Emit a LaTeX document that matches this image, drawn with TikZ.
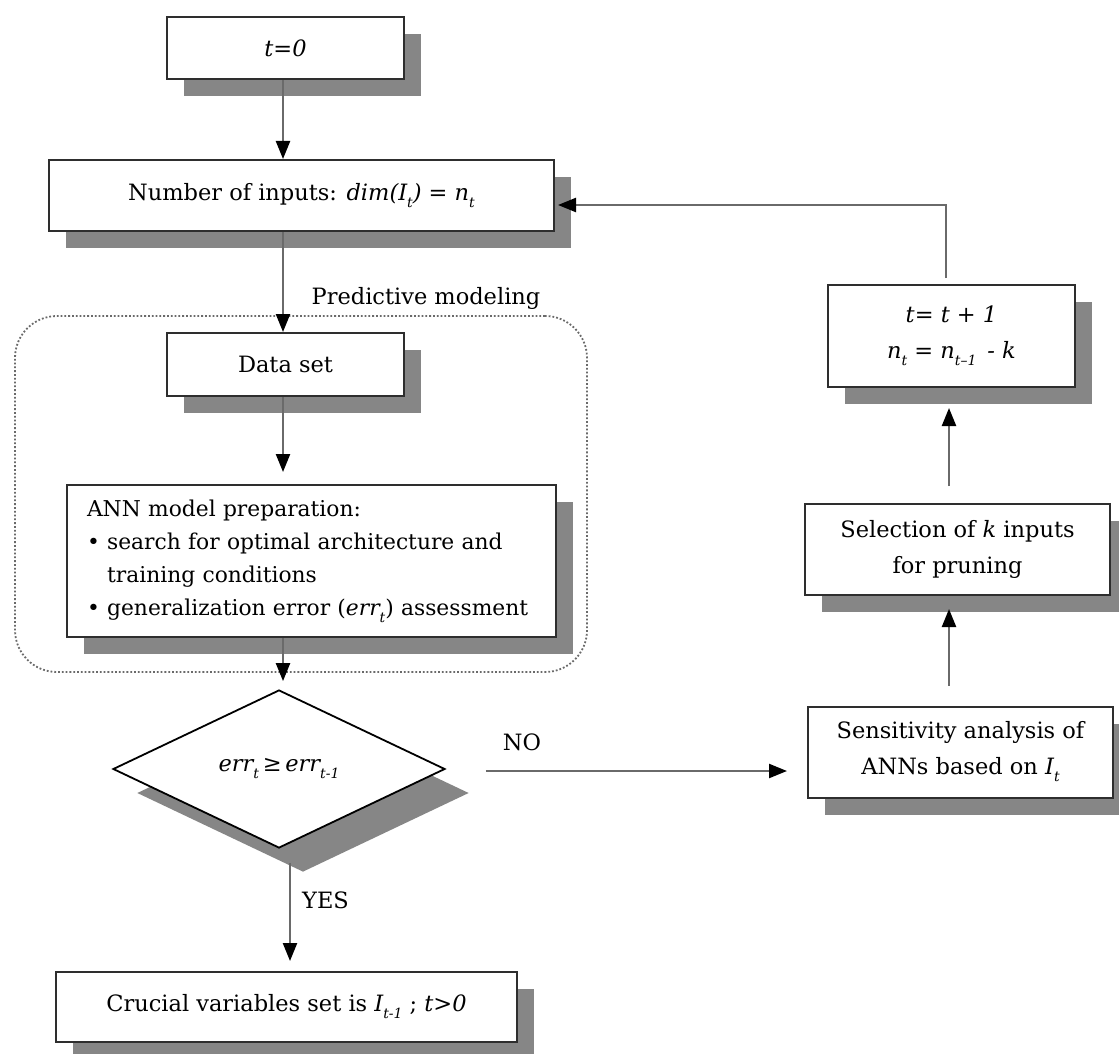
\documentclass[tikz,border=0pt]{standalone}
\usepackage{fontspec}
\setmainfont{DejaVu Serif}
\usetikzlibrary{arrows.meta,shapes.geometric,shadows}
\definecolor{shadowc}{HTML}{868686}
\definecolor{linec}{HTML}{6A6A6A}
\definecolor{borderc}{HTML}{2E2E2E}
\newcommand\lsub[1]{\raisebox{-0.6ex}{\fontsize{14}{14}\selectfont #1}}
\begin{document}
\begin{tikzpicture}[x=1pt,y=-1pt,
  txt/.style={font=\fontsize{22.5}{36}\selectfont},
  boxbase/.style={txt, draw=borderc, line width=2pt, fill=white, rectangle, inner sep=0pt, align=center},
  box/.style={boxbase, drop shadow={opacity=1, fill=shadowc, shadow xshift=17pt, shadow yshift=-17pt}},
  decision/.style={txt, diamond, aspect=2.1, draw=black, line width=1.8pt, fill=white, inner sep=0pt,
     drop shadow={opacity=1, fill=shadowc, shadow xshift=24pt, shadow yshift=-24pt}},
  conn/.style={draw=linec, line width=2.3pt, -{Triangle[length=18pt,width=14pt,black]}},
  lbl/.style={txt, inner sep=0pt},
  region/.style={draw=linec, dotted, line width=1.8pt, rounded corners=42pt, inner sep=0pt}
]
\fill[white] (0,0) rectangle (1119,1054);
\useasboundingbox (0,0) rectangle (1119,1054);

\coordinate (spine) at (283,0);
\coordinate (yesx) at (290,0);
\coordinate (rspine) at (949,0);
\coordinate (fbx) at (946,0);
\coordinate (fby) at (0,205);
\coordinate (noy) at (0,771);

% predictive modeling region
\node[region, minimum width=572pt, minimum height=356pt] (pmbox) at (301,494) {};
\node[lbl] (pm) at (426,298) {Predictive modeling};

% left column
\node[box, minimum width=237pt, minimum height=62pt] (t0) at (285.5,48) {\textit{t=0}};
\node[box, minimum width=505pt, minimum height=71pt] (num) at (301.5,195.5)
  {Number of inputs: \textit{dim(I\lsub{t}) = n\lsub{t}}};
\node[box, minimum width=237pt, minimum height=63pt] (data) at (285.5,364.5) {Data set};
\node[box, minimum width=489pt, minimum height=152pt, text width=449pt, align=left,
      font=\fontsize{21.8}{33}\selectfont] (ann) at (311.5,561)
  {ANN model preparation:\\
   \textbullet\ search for optimal architecture and\\
   \hphantom{\textbullet\ }training conditions\\
   \textbullet\ generalization error (\textit{err\lsub{t}}) assessment};
\node[decision, minimum width=332pt, minimum height=158pt] (dec) at (279,769)
  {\textit{err\lsub{t}}\,≥\,\textit{err\lsub{t-1}}};
\node[box, minimum width=461pt, minimum height=70pt] (crucial) at (286.5,1007)
  {Crucial variables set is \textit{I\lsub{t-1}} ; \textit{t>0}};

% right column
\node[box, minimum width=305pt, minimum height=91pt] (sens) at (960.5,752)
  {Sensitivity analysis of\\ANNs based on \textit{I\lsub{t}}};
\node[box, minimum width=305pt, minimum height=91pt] (sel) at (957.5,549.5)
  {Selection of \textit{k} inputs\\for pruning};
\node[box, minimum width=247pt, minimum height=102pt] (tt1) at (951.5,336)
  {\textit{t= t + 1}\\\textit{n\lsub{t} = n\lsub{t–1} \,- k}};

% labels
\node[lbl] (no) at (522,742) {NO};
\node[lbl, anchor=west] (yes) at (302,900) {YES};

% connectors
\draw[conn] (t0.south -| spine) -- (num.north -| spine);
\draw[conn] (num.south -| spine) -- (data.north -| spine);
\draw[conn] (data.south -| spine) -- ([yshift=12pt]ann.north -| spine);
\draw[conn] (ann.south -| spine) -- ([yshift=8pt]dec.north -| spine);
\draw[conn] ([yshift=-14pt]dec.south -| yesx) -- ([yshift=10pt]crucial.north -| yesx);
\draw[conn] ([xshift=40pt]dec.east |- noy) -- ([xshift=-20pt]sens.west |- noy);
\draw[conn] ([yshift=20pt]sens.north -| rspine) -- ([yshift=-13pt]sel.south -| rspine);
\draw[conn] ([yshift=17pt]sel.north -| rspine) -- ([yshift=-20pt]tt1.south -| rspine);
\draw[conn] ([yshift=6pt]tt1.north -| fbx) |- ([xshift=3pt]num.east |- fby);
\end{tikzpicture}
\end{document}
